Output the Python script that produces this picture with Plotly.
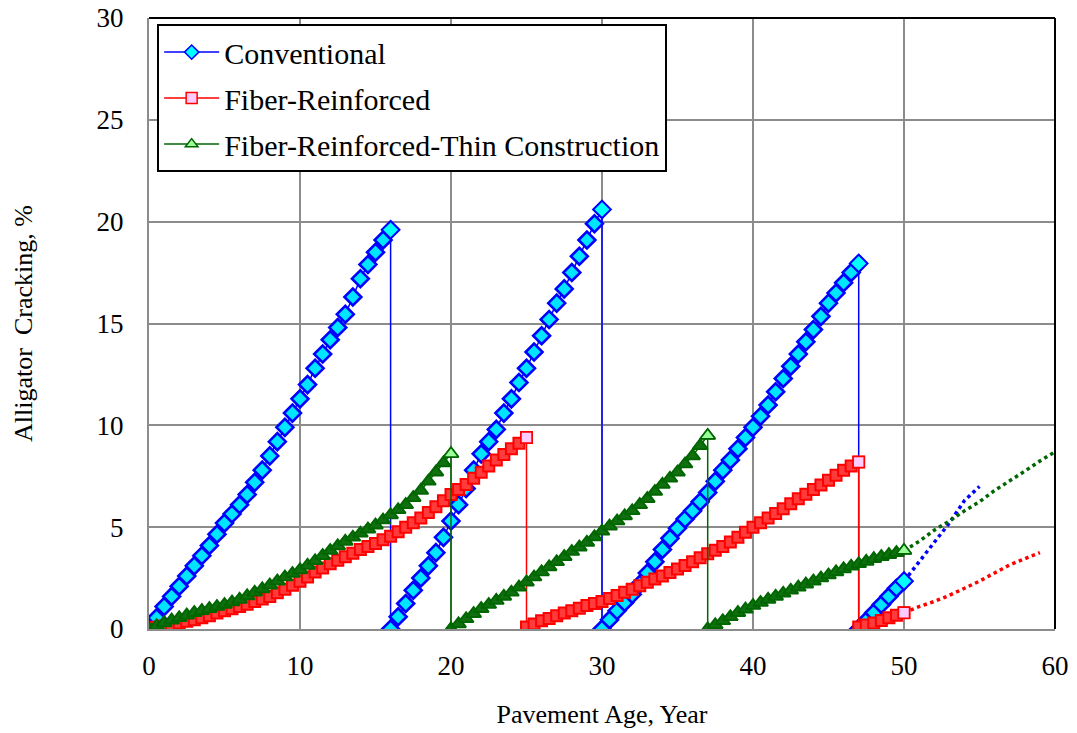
import numpy as np
import plotly.graph_objects as go

# ---------------- data ----------------
# Conventional (half-year readings per rehabilitation cycle)
conv_age_1 = np.arange(0, 16.01, 0.5)
conv_val_1 = [0, 0.55, 1.1, 1.6, 2.1, 2.6, 3.1, 3.6, 4.1, 4.65, 5.2, 5.65, 6.1, 6.6, 7.2, 7.8,
              8.5, 9.2, 9.9, 10.6, 11.3, 12.0, 12.8, 13.5, 14.2, 14.8, 15.45, 16.3, 17.2, 17.9,
              18.5, 19.1, 19.6]
conv_age_2 = np.arange(16, 30.01, 0.5)
conv_val_2 = [0, 0.6, 1.25, 1.9, 2.5, 3.1, 3.75, 4.5, 5.3, 6.1, 6.9, 7.8, 8.6, 9.2, 9.8, 10.6,
              11.3, 12.1, 12.8, 13.6, 14.4, 15.2, 16.0, 16.7, 17.5, 18.3, 19.1, 19.9, 20.6]
conv_age_3 = np.arange(30, 47.01, 0.5)
conv_val_3 = [0, 0.45, 0.9, 1.3, 1.7, 2.2, 2.75, 3.3, 3.9, 4.45, 4.95, 5.4, 5.8, 6.25, 6.7,
              7.25, 7.8, 8.3, 8.85, 9.4, 9.9, 10.45, 11.0, 11.65, 12.3, 12.9, 13.5, 14.1, 14.7,
              15.35, 16.0, 16.5, 17.0, 17.5, 17.95]
conv_age_4 = np.arange(47, 50.01, 0.5)
conv_val_4 = [0, 0.4, 0.8, 1.2, 1.6, 2.0, 2.35]
conv_ext_age = [50, 51, 52, 53, 54, 55]
conv_ext_val = [2.35, 3.3, 4.2, 5.2, 6.3, 7.0]

# Fiber-Reinforced
fib_age_1 = np.arange(0, 25.01, 0.5)
fib_val_1 = [0, 0.08, 0.15, 0.22, 0.3, 0.38, 0.45, 0.55, 0.65, 0.78, 0.9, 1.0, 1.1, 1.22, 1.35,
             1.47, 1.6, 1.78, 1.95, 2.15, 2.35, 2.55, 2.8, 3.0, 3.2, 3.37, 3.55, 3.72, 3.9, 4.05,
             4.2, 4.38, 4.55, 4.78, 5.0, 5.22, 5.45, 5.72, 6.0, 6.3, 6.6, 6.85, 7.1, 7.4, 7.7,
             8.0, 8.3, 8.57, 8.85, 9.12, 9.4]
fib_age_2 = np.arange(25, 47.01, 0.5)
fib_val_2 = [0.1, 0.25, 0.4, 0.52, 0.65, 0.78, 0.9, 1.02, 1.15, 1.25, 1.35, 1.5, 1.65, 1.8, 1.95,
             2.12, 2.3, 2.45, 2.6, 2.78, 2.95, 3.12, 3.3, 3.5, 3.7, 3.87, 4.05, 4.27, 4.5, 4.75,
             5.0, 5.22, 5.45, 5.67, 5.9, 6.15, 6.4, 6.62, 6.85, 7.07, 7.3, 7.55, 7.8, 8.0, 8.2]
fib_age_3 = np.arange(47, 50.01, 0.5)
fib_val_3 = [0.1, 0.2, 0.3, 0.42, 0.55, 0.67, 0.8]
fib_ext_age = [50, 51, 52, 53, 54, 55, 56, 57, 58, 59]
fib_ext_val = [0.8, 1.1, 1.35, 1.65, 2.0, 2.35, 2.75, 3.15, 3.45, 3.75]

# Fiber-Reinforced-Thin Construction
thin_age_1 = np.arange(0, 20.01, 0.5)
thin_val_1 = [0, 0.15, 0.3, 0.43, 0.55, 0.68, 0.8, 0.9, 1.0, 1.1, 1.2, 1.32, 1.45, 1.62, 1.8,
              1.97, 2.15, 2.35, 2.55, 2.72, 2.9, 3.12, 3.35, 3.6, 3.85, 4.08, 4.3, 4.5, 4.7, 4.9,
              5.1, 5.35, 5.6, 5.85, 6.1, 6.45, 6.8, 7.25, 7.7, 8.15, 8.6]
thin_age_2 = np.arange(20, 37.01, 0.5)
thin_val_2 = [0, 0.25, 0.5, 0.75, 1.0, 1.2, 1.4, 1.6, 1.8, 2.05, 2.3, 2.55, 2.8, 3.05, 3.3,
              3.55, 3.8, 4.02, 4.25, 4.52, 4.8, 5.05, 5.3, 5.55, 5.8, 6.1, 6.4, 6.75, 7.1, 7.4,
              7.7, 8.1, 8.5, 9.0, 9.5]
thin_age_3 = np.arange(37, 50.01, 0.5)
thin_val_3 = [0, 0.2, 0.4, 0.6, 0.8, 0.97, 1.15, 1.3, 1.45, 1.6, 1.75, 1.9, 2.05, 2.2, 2.35,
              2.5, 2.65, 2.8, 2.95, 3.08, 3.2, 3.32, 3.45, 3.55, 3.65, 3.75, 3.85]
thin_ext_age = [50, 51, 52, 53, 54, 55, 56, 57, 58, 59, 60]
thin_ext_val = [3.85, 4.3, 4.85, 5.3, 5.8, 6.25, 6.8, 7.25, 7.75, 8.25, 8.7]

x_ticks = [0, 10, 20, 30, 40, 50, 60]
y_ticks = [0, 5, 10, 15, 20, 25, 30]

FONT = "Liberation Serif, Times New Roman, serif"


def join(*segs):
    xs, ys = [], []
    for a, v in segs:
        xs += list(a)
        ys += list(v)
    return xs, ys


series = [
    dict(name="Conventional", segs=[(conv_age_1, conv_val_1), (conv_age_2, conv_val_2),
                                    (conv_age_3, conv_val_3), (conv_age_4, conv_val_4)],
         ext=(conv_ext_age, conv_ext_val), line="#0000ff", fill="#00ffff",
         band_fill="#00e5ff", band_lw=2.6, symbol="diamond", size=13, end_size=13),
    dict(name="Fiber-Reinforced", segs=[(fib_age_1, fib_val_1), (fib_age_2, fib_val_2),
                                        (fib_age_3, fib_val_3)],
         ext=(fib_ext_age, fib_ext_val), line="#ff0000", fill="#ffccff",
         band_fill="#ff3b3b", band_lw=2, symbol="square", size=11, end_size=11),
    dict(name="Fiber-Reinforced-Thin Construction",
         segs=[(thin_age_1, thin_val_1), (thin_age_2, thin_val_2), (thin_age_3, thin_val_3)],
         ext=(thin_ext_age, thin_ext_val), line="#006600", fill="#99ff99",
         band_fill="#107010", band_lw=2, symbol="triangle-up", size=13, end_size=13),
]

fig = go.Figure()

# dotted extensions first (drawn underneath)
for s in series:
    fig.add_trace(go.Scatter(
        x=s["ext"][0], y=s["ext"][1], mode="lines", showlegend=False, hoverinfo="skip",
        line=dict(color=s["line"], width=3.5, dash="dot")))

for i, s in enumerate(series):
    xs, ys = join(*s["segs"])
    # dense band of markers
    fig.add_trace(go.Scatter(
        x=xs, y=ys, mode="lines+markers", name=s["name"], showlegend=False,
        line=dict(color=s["line"], width=1.5),
        marker=dict(symbol=s["symbol"], size=s["size"], color=s["band_fill"],
                    line=dict(color=s["line"], width=s["band_lw"]))))
    # last marker of each cycle (drawn on top, light fill)
    ex = [list(a)[-1] for a, v in s["segs"]]
    ey = [list(v)[-1] for a, v in s["segs"]]
    fig.add_trace(go.Scatter(
        x=ex, y=ey, mode="markers", showlegend=False, hoverinfo="skip",
        marker=dict(symbol=s["symbol"], size=s["end_size"], color=s["fill"],
                    line=dict(color=s["line"], width=1.5))))
    # legend entry
    fig.add_trace(go.Scatter(
        x=[None], y=[None], mode="lines+markers", name=s["name"], legendgroup=f"g{i}",
        line=dict(color=s["line"], width=1.5),
        marker=dict(symbol=s["symbol"], size=11, color=s["fill"],
                    line=dict(color=s["line"], width=1.5))))

fig.update_layout(
    width=1077, height=733,
    margin=dict(l=149, r=22, t=18, b=104),
    paper_bgcolor="white", plot_bgcolor="white",
    font=dict(family=FONT, size=26, color="black"),
    showlegend=True,
    legend=dict(x=0.009, y=0.99, xanchor="left", yanchor="top",
                bgcolor="white", bordercolor="black", borderwidth=2,
                font=dict(family=FONT, size=30, color="black"),
                traceorder="grouped", tracegroupgap=4, itemwidth=55),
    xaxis=dict(range=[0, 60], tickvals=x_ticks, ticktext=[str(v) for v in x_ticks],
               automargin=False, ticklabeloverflow="allow",
               showgrid=True, gridcolor="#8c8c8c", gridwidth=2,
               showline=True, linecolor="#8c8c8c", linewidth=2,
               zeroline=False, ticks="", ticklabelstandoff=12,
               tickfont=dict(family=FONT, size=27),
               title=dict(text="Pavement Age, Year", font=dict(family=FONT, size=26),
                          standoff=24)),
    yaxis=dict(range=[0, 30], tickvals=y_ticks, ticktext=[str(v) for v in y_ticks],
               automargin=False, ticklabeloverflow="allow",
               showgrid=True, gridcolor="#8c8c8c", gridwidth=2,
               showline=True, linecolor="#8c8c8c", linewidth=2,
               zeroline=False, ticks="", ticklabelstandoff=18,
               tickfont=dict(family=FONT, size=27),
               title=dict(text="Alligator  Cracking, %", font=dict(family=FONT, size=26),
                          standoff=56)),
    shapes=[
        dict(type="line", xref="paper", yref="paper", x0=0, x1=1, y0=1, y1=1,
             line=dict(color="black", width=2)),
        dict(type="line", xref="paper", yref="paper", x0=1, x1=1, y0=0, y1=1,
             line=dict(color="black", width=2)),
    ],
)

fig.write_html("out.html", config={"displayModeBar": False},
               post_script="document.body.style.margin='0';")
